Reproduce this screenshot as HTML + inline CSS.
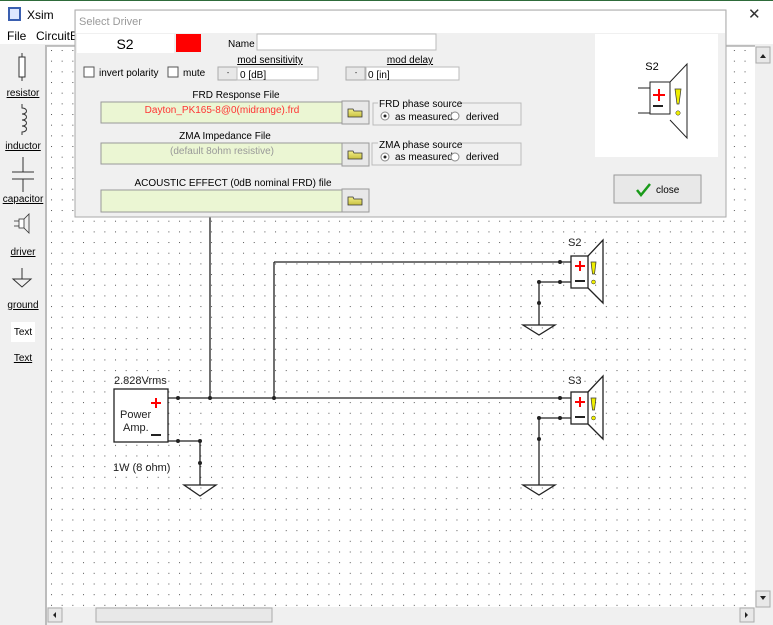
<!DOCTYPE html>
<html><head><meta charset="utf-8"><style>
html,body{margin:0;padding:0;width:773px;height:625px;overflow:hidden;background:#fff;font-family:"Liberation Sans",sans-serif}
svg text{font-family:"Liberation Sans",sans-serif}
</style></head><body>
<svg width="773" height="625" viewBox="0 0 773 625" xmlns="http://www.w3.org/2000/svg">
<defs>
<pattern id="dots" x="51" y="50" width="10.67" height="10.67" patternUnits="userSpaceOnUse">
<rect x="0" y="0" width="1" height="1" fill="#555"/>
</pattern>
<linearGradient id="fold" x1="0" y1="0" x2="0" y2="1"><stop offset="0" stop-color="#f4f08a"/><stop offset="1" stop-color="#c8c040"/></linearGradient>
</defs>
<!-- window -->
<rect x="0" y="0" width="773" height="625" fill="#f0f0f0"/>
<rect x="0" y="0" width="773" height="44" fill="#fff"/>
<line x1="0" y1="0.5" x2="773" y2="0.5" stroke="#2e6b3a"/>
<rect x="8" y="7" width="13" height="14" fill="#3a5fb0"/><rect x="10" y="9" width="9" height="10" fill="#dfe8ff"/>
<text x="27" y="19" font-size="12">Xsim</text>
<text x="748" y="19" font-size="15" fill="#333">✕</text>
<text x="7" y="40" font-size="12">File</text>
<text x="36" y="40" font-size="12">CircuitBl</text>
<!-- left toolbar -->
<rect x="0" y="45" width="46" height="580" fill="#f0f0f0"/>
<line x1="46" y1="45" x2="46" y2="625" stroke="#888"/>
<rect x="19" y="57" width="6" height="20" fill="#fff" stroke="#333"/>
<line x1="22" y1="53" x2="22" y2="57" stroke="#333"/><line x1="22" y1="77" x2="22" y2="81" stroke="#333"/>
<text x="23" y="96" font-size="10" text-anchor="middle" text-decoration="underline">resistor</text>
<path d="M22 104 v4 c6 0 6 6 0 6 c6 0 6 6 0 6 c6 0 6 6 0 6 c6 0 6 6 0 6 v3" fill="none" stroke="#333"/>
<text x="23" y="149" font-size="10" text-anchor="middle" text-decoration="underline">inductor</text>
<line x1="23" y1="157" x2="23" y2="172" stroke="#333"/><line x1="12" y1="172" x2="34" y2="172" stroke="#333"/>
<line x1="12" y1="179" x2="34" y2="179" stroke="#333"/><line x1="23" y1="179" x2="23" y2="192" stroke="#333"/>
<text x="23" y="202" font-size="10" text-anchor="middle" text-decoration="underline">capacitor</text>
<rect x="19" y="219" width="5" height="9" fill="#fff" stroke="#333" stroke-width=".8"/>
<path d="M24 219 l5 -5 v19 l-5 -5" fill="none" stroke="#333" stroke-width=".8"/>
<line x1="14" y1="221" x2="19" y2="221" stroke="#333" stroke-width=".8"/><line x1="14" y1="226" x2="19" y2="226" stroke="#333" stroke-width=".8"/>
<text x="23" y="255" font-size="10" text-anchor="middle" text-decoration="underline">driver</text>
<line x1="22" y1="268" x2="22" y2="279" stroke="#333"/><path d="M13 279 h18 l-9 8 z" fill="none" stroke="#333"/>
<text x="23" y="308" font-size="10" text-anchor="middle" text-decoration="underline">ground</text>
<rect x="11" y="322" width="24" height="20" fill="#fff"/>
<text x="23" y="335" font-size="10" text-anchor="middle">Text</text>
<text x="23" y="361" font-size="10" text-anchor="middle" text-decoration="underline">Text</text>
<!-- canvas -->
<rect x="47" y="46" width="708" height="561" fill="#fff"/>
<rect x="47" y="46" width="708" height="561" fill="url(#dots)"/>
<line x1="47" y1="46" x2="755" y2="46" stroke="#888"/>
<!-- scrollbars -->
<rect x="755" y="46" width="16" height="561" fill="#f0f0f0"/>
<rect x="756" y="47" width="14" height="16" fill="#e8e8e8" stroke="#aaa"/>
<path d="M760 58 h6 l-3 -4 z" fill="#222"/>
<rect x="756" y="591" width="14" height="16" fill="#e8e8e8" stroke="#aaa"/>
<path d="M760 596 h6 l-3 4 z" fill="#222"/>
<rect x="47" y="607" width="708" height="16" fill="#f0f0f0"/>
<rect x="48" y="608" width="14" height="14" fill="#e8e8e8" stroke="#aaa"/>
<path d="M56 612 v6 l-3 -3 z" fill="#222"/>
<rect x="96" y="608" width="176" height="14" fill="#e8e8e8" stroke="#aaa"/>
<rect x="740" y="608" width="14" height="14" fill="#e8e8e8" stroke="#aaa"/>
<path d="M745 612 v6 l3 -3 z" fill="#222"/>
<!-- circuit -->
<g stroke="#222" stroke-width="1.3" fill="none">
<line x1="210" y1="217" x2="210" y2="398"/>
<line x1="168" y1="398" x2="571" y2="398"/>
<line x1="274" y1="262" x2="274" y2="398"/>
<line x1="274" y1="262" x2="571" y2="262"/>
<rect x="114" y="389" width="54" height="53" fill="#fff"/>
<line x1="168" y1="441" x2="200" y2="441"/>
<line x1="200" y1="441" x2="200" y2="485"/>
<path d="M184 485 h32 l-16 11 z"/>
<!-- S2 -->
<line x1="539" y1="282" x2="571" y2="282"/>
<line x1="539" y1="282" x2="539" y2="325"/>
<path d="M523 325 h32 l-16 10 z"/>
<rect x="571" y="256" width="17" height="32" fill="#fff"/>
<path d="M588 256 l15 -16 v63 l-15 -15"/>
<!-- S3 -->
<line x1="539" y1="418" x2="571" y2="418"/>
<line x1="539" y1="418" x2="539" y2="485"/>
<path d="M523 485 h32 l-16 10 z"/>
<rect x="571" y="392" width="17" height="32" fill="#fff"/>
<path d="M588 392 l15 -16 v63 l-15 -15"/>
</g>
<g fill="#222">
<circle cx="178" cy="398" r="2"/><circle cx="210" cy="398" r="2"/><circle cx="274" cy="398" r="2"/>
<circle cx="178" cy="441" r="2"/><circle cx="200" cy="441" r="2"/><circle cx="200" cy="463" r="2"/>
<circle cx="560" cy="262" r="2"/><circle cx="560" cy="282" r="2"/><circle cx="539" cy="282" r="2"/><circle cx="539" cy="303" r="2"/>
<circle cx="560" cy="398" r="2"/><circle cx="560" cy="418" r="2"/><circle cx="539" cy="418" r="2"/><circle cx="539" cy="439" r="2"/>
</g>
<g font-size="11" fill="#222">
<text x="114" y="384">2.828Vrms</text>
<text x="120" y="418">Power</text><text x="123" y="431">Amp.</text>
<text x="113" y="471">1W (8 ohm)</text>
<text x="568" y="246">S2</text><text x="568" y="384">S3</text>
</g>
<g>
<path d="M151 403 h10 M156 398 v10 M575 266 h10 M580 261 v10 M575 402 h10 M580 397 v10" stroke="#f00" stroke-width="2"/>
<path d="M151 435 h10 M575 281 h10 M575 417 h10" stroke="#222" stroke-width="2"/>
<path d="M591 262 h5 l-1.5 12 h-2 z M591 398 h5 l-1.5 12 h-2 z" fill="#ee0" stroke="#333" stroke-width=".7"/>
<circle cx="593.5" cy="282" r="2" fill="#ee0" stroke="#333" stroke-width=".5"/>
<circle cx="593.5" cy="418" r="2" fill="#ee0" stroke="#333" stroke-width=".5"/>
</g>
<!-- dialog -->
<rect x="75" y="10" width="651" height="207" fill="#f0f0f0" stroke="#aaa"/>
<rect x="76" y="11" width="649" height="22" fill="#fff"/>
<text x="79" y="25" font-size="11" fill="#999">Select Driver</text>
<rect x="77" y="34" width="97" height="19" fill="#fff"/>
<text x="125" y="49" font-size="14" text-anchor="middle">S2</text>
<rect x="176" y="34" width="25" height="18" fill="#f00"/>
<text x="228" y="47" font-size="10">Name</text>
<rect x="257" y="34" width="179" height="16" fill="#fff" stroke="#bbb"/>
<rect x="84" y="67" width="10" height="10" fill="#fff" stroke="#555"/>
<text x="99" y="76" font-size="10">invert polarity</text>
<rect x="168" y="67" width="10" height="10" fill="#fff" stroke="#555"/>
<text x="183" y="76" font-size="10">mute</text>
<text x="270" y="63" font-size="10" text-anchor="middle" text-decoration="underline">mod sensitivity</text>
<rect x="218" y="67" width="19" height="13" fill="#e8e8e8" stroke="#aaa"/>
<text x="228" y="75" font-size="7" text-anchor="middle">-</text>
<rect x="237" y="67" width="81" height="13" fill="#fff" stroke="#bbb"/>
<text x="240" y="78" font-size="10">0 [dB]</text>
<text x="410" y="63" font-size="10" text-anchor="middle" text-decoration="underline">mod delay</text>
<rect x="346" y="67" width="19" height="13" fill="#e8e8e8" stroke="#aaa"/>
<text x="356" y="75" font-size="7" text-anchor="middle">-</text>
<rect x="366" y="67" width="93" height="13" fill="#fff" stroke="#bbb"/>
<text x="368" y="78" font-size="10">0 [in]</text>
<text x="236" y="98" font-size="10" text-anchor="middle">FRD Response File</text>
<rect x="101" y="102" width="241" height="21" fill="#ebf6d3" stroke="#999"/>
<text x="222" y="113" font-size="10" text-anchor="middle" fill="#f33">Dayton_PK165-8@0(midrange).frd</text>
<rect x="342" y="101" width="27" height="23" fill="#e8e8e8" stroke="#999"/>
<path d="M348 109 h5 l1 2 h8 v6 h-14 z" fill="url(#fold)" stroke="#333" stroke-width=".8"/>
<text x="225" y="139" font-size="10" text-anchor="middle">ZMA Impedance File</text>
<rect x="101" y="143" width="241" height="21" fill="#ebf6d3" stroke="#999"/>
<text x="222" y="154" font-size="10" text-anchor="middle" fill="#999">(default 8ohm resistive)</text>
<rect x="342" y="143" width="27" height="23" fill="#e8e8e8" stroke="#999"/>
<path d="M348 151 h5 l1 2 h8 v6 h-14 z" fill="url(#fold)" stroke="#333" stroke-width=".8"/>
<text x="233" y="186" font-size="10" text-anchor="middle">ACOUSTIC EFFECT (0dB nominal FRD) file</text>
<rect x="101" y="190" width="241" height="22" fill="#ebf6d3" stroke="#999"/>
<rect x="342" y="189" width="27" height="23" fill="#e8e8e8" stroke="#999"/>
<path d="M348 197 h5 l1 2 h8 v6 h-14 z" fill="url(#fold)" stroke="#333" stroke-width=".8"/>
<rect x="373" y="103" width="148" height="22" fill="none" stroke="#bbb"/>
<rect x="378" y="98" width="82" height="10" fill="#f0f0f0"/>
<text x="379" y="107" font-size="10">FRD phase source</text>
<circle cx="385" cy="116" r="4" fill="#fff" stroke="#888"/><circle cx="385" cy="116" r="1.5" fill="#222"/>
<text x="395" y="120" font-size="10">as measured</text>
<circle cx="455" cy="116" r="4" fill="#fff" stroke="#888"/>
<text x="466" y="120" font-size="10">derived</text>
<rect x="372" y="143" width="149" height="22" fill="none" stroke="#bbb"/>
<rect x="378" y="138" width="82" height="10" fill="#f0f0f0"/>
<text x="379" y="148" font-size="10">ZMA phase source</text>
<circle cx="385" cy="157" r="4" fill="#fff" stroke="#888"/><circle cx="385" cy="157" r="1.5" fill="#222"/>
<text x="395" y="160" font-size="10">as measured</text>
<circle cx="455" cy="157" r="4" fill="#fff" stroke="#888"/>
<text x="466" y="160" font-size="10">derived</text>
<!-- preview -->
<rect x="595" y="34" width="123" height="123" fill="#fff"/>
<text x="652" y="70" font-size="11" text-anchor="middle">S2</text>
<g stroke="#222" fill="none">
<rect x="650" y="82" width="20" height="32"/>
<path d="M670 82 l17 -18 v74 l-17 -18"/>
<line x1="638" y1="88" x2="650" y2="88"/><line x1="638" y1="113" x2="650" y2="113"/>
</g>
<path d="M653 95 h12 M659 89 v12" stroke="#f00" stroke-width="2"/>
<path d="M653 106 h10" stroke="#222" stroke-width="2"/>
<path d="M675 89 h6 l-2 15 h-2 z" fill="#ee0" stroke="#333" stroke-width=".7"/>
<circle cx="678" cy="113" r="2.2" fill="#ee0" stroke="#333" stroke-width=".5"/>
<rect x="614" y="175" width="87" height="28" fill="#e8e8e8" stroke="#999"/>
<path d="M637 190 l4 5 l9 -11" fill="none" stroke="#1a9a1a" stroke-width="2.5"/>
<text x="656" y="193" font-size="10">close</text>
</svg>
</body></html>
